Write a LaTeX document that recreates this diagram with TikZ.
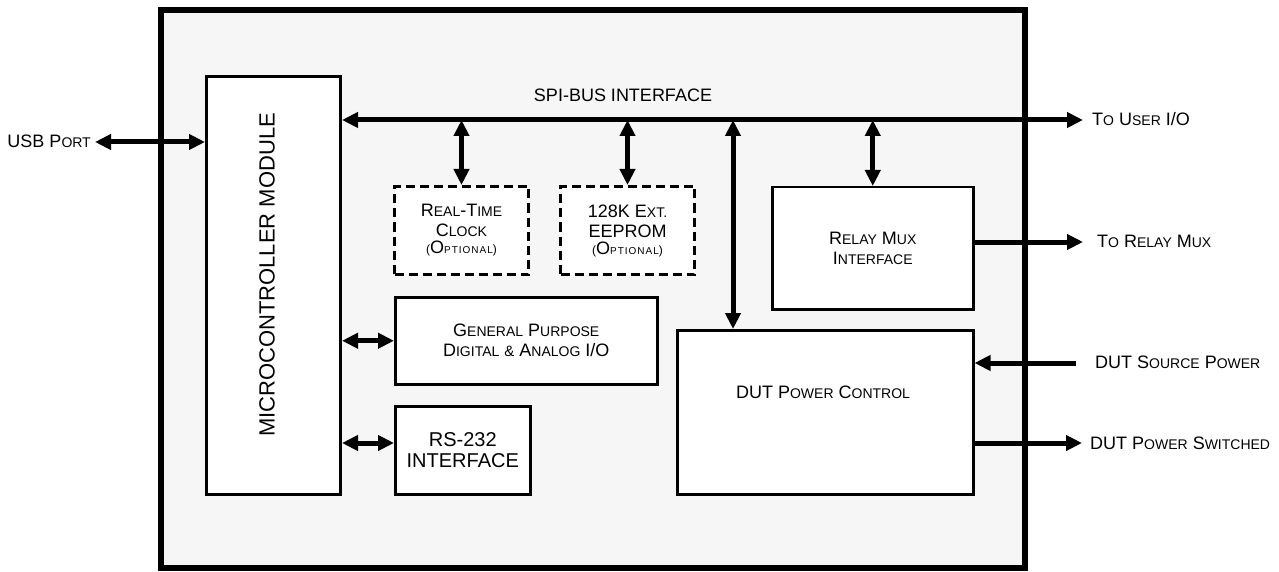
\documentclass[tikz,border=0pt]{standalone}
\usepackage{fontspec}
\setmainfont{Liberation Sans}
\usetikzlibrary{arrows.meta}
\newcommand\sm{\fontsize{14}{15}\selectfont}
\newcommand\tn{\fontsize{10}{11}\selectfont}
\newcommand\tnp{\fontsize{12}{13}\selectfont}
\newcommand\optl{{\addfontfeature{LetterSpace=10}{\tnp(}O{\tn PTIONAL}{\tnp)}}}
\definecolor{panel}{HTML}{F6F6F6}
\begin{document}
\begin{tikzpicture}[x=1pt,y=-1pt,
  box/.style={draw, line width=2.5pt, fill=white, anchor=north west, inner sep=0pt,
              align=center, font=\fontsize{18}{20}\selectfont},
  dbox/.style={box, line width=3pt, dash pattern=on 9pt off 5pt},
  lbl/.style={inner sep=0pt, font=\fontsize{18}{20}\selectfont},
  both/.style={line width=5pt, {Triangle[length=16pt,width=15pt]}-{Triangle[length=16pt,width=15pt]}},
  one/.style={line width=5pt, -{Triangle[length=16pt,width=15pt]}}]
\useasboundingbox (0,0) rectangle (1279,572);
\fill[white] (0,0) rectangle (1279,572);
% frame
\node[draw, line width=6pt, fill=panel, anchor=north west, inner sep=0pt,
      minimum width=864pt, minimum height=558pt] (frame) at (158,7) {};
% blocks
\node[box, line width=3pt, minimum width=134pt, minimum height=418pt] (mcu) at (205,75) {};
\node[lbl, rotate=90, font=\fontsize{22}{24}\selectfont] (mcuT) at (267,275) {MICROCONTROLLER MODULE};
\node[dbox, minimum width=134pt, minimum height=88pt] (rtc) at (393,185)
  {R{\sm EAL}-T{\sm IME}\\C{\sm LOCK}\\[-3pt]\optl};
\node[dbox, minimum width=134pt, minimum height=88pt] (eep) at (559,185)
  {128K E{\sm XT.}\\EEPROM\\[-3pt]\optl};
\node[box, minimum width=262pt, minimum height=87pt] (gp) at (394,296)
  {G{\sm ENERAL} P{\sm URPOSE}\\D{\sm IGITAL} {\fontsize{15}{16}\selectfont\&} A{\sm NALOG} I/O};
\node[box, minimum width=135pt, minimum height=88pt, font=\fontsize{20}{21}\selectfont] (rs) at (394,405)
  {RS-232\\INTERFACE};
\node[box, minimum width=201pt, minimum height=122pt] (relay) at (771,186)
  {R{\sm ELAY} M{\sm UX}\\I{\sm NTERFACE}};
\node[box, minimum width=296pt, minimum height=164pt] (dut) at (676,329) {};
\node[lbl] (dutT) at (823,392) {DUT P{\sm OWER} C{\sm ONTROL}};
% labels
\node[lbl] (spi) at (623,95) {SPI-BUS INTERFACE};
\coordinate (usbL) at (95,142);
\node[lbl, anchor=east] (usbT) at (91,141) {USB P{\sm ORT}};
\coordinate (uio) at (1083,120);
\node[lbl, anchor=west] (uioT) at (1092,119) {T{\sm O} U{\sm SER} I/O};
\coordinate (rmx) at (1083,242);
\node[lbl, anchor=west] (rmxT) at (1097,241) {T{\sm O} R{\sm ELAY} M{\sm UX}};
\coordinate (dsp) at (1076,363);
\node[lbl, anchor=west] (dspT) at (1095,362) {DUT S{\sm OURCE} P{\sm OWER}};
\coordinate (dps) at (1082,443);
\node[lbl, anchor=west] (dpsT) at (1090,443) {DUT P{\sm OWER} S{\sm WITCHED}};
\coordinate (dutA) at (733,329);
\coordinate (rsA) at (394,443);
% connectors
\draw[both] (usbL) -- (usbL -| mcu.west);
\draw[both] (uio -| mcu.east) -- (uio);
\draw[both] (rtc.north |- uio) -- (rtc.north);
\draw[both] (eep.north |- uio) -- (eep.north);
\draw[both] (relay.north |- uio) -- (relay.north);
\draw[both] (dutA |- uio) -- (dutA);
\draw[both] (mcu.east |- gp.west) -- (gp.west);
\draw[both] (mcu.east |- rsA) -- (rsA);
\draw[one] (relay.east |- rmx) -- (rmx);
\draw[one] (dsp) -- (dsp -| dut.east);
\draw[one] (dps -| dut.east) -- (dps);
\end{tikzpicture}
\end{document}
